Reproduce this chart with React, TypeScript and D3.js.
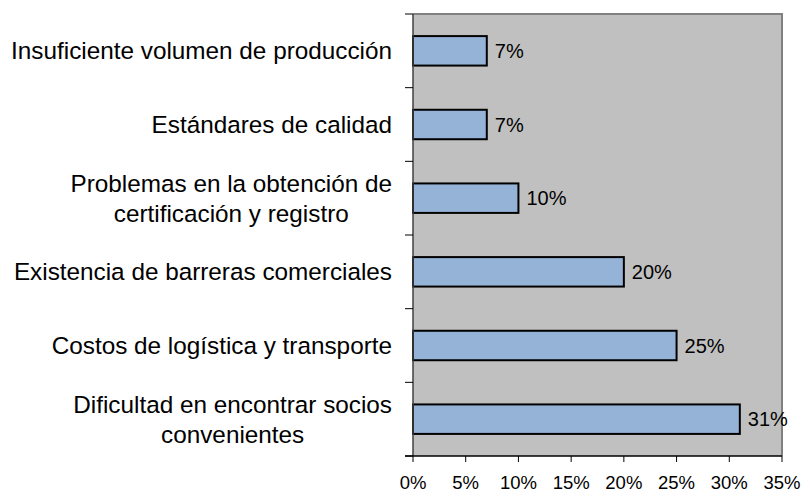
import React, { useEffect, useRef } from "react";
import * as d3 from "d3";

const categories: string[][] = [
  ["Insuficiente volumen de producción"],
  ["Estándares de calidad"],
  ["Problemas en la obtención de", "certificación y registro"],
  ["Existencia de barreras comerciales"],
  ["Costos de logística y transporte"],
  ["Dificultad en encontrar socios", "convenientes"],
];
const values: number[] = [7, 7, 10, 20, 25, 31];
const xTicks: number[] = [0, 5, 10, 15, 20, 25, 30, 35];

const W = 804;
const H = 493;
const FONT = "'Liberation Sans', Arial, sans-serif";

export default function App() {
  const ref = useRef<SVGSVGElement>(null);

  useEffect(() => {
    const svg = d3.select(ref.current);
    svg.selectAll("*").remove();

    const left = 413, right = 782, top = 14, bottom = 456;
    const x = d3.scaleLinear().domain([0, 35]).range([left, right]);
    const idx = categories.map((_, i) => i);
    const y = d3.scaleBand<number>().domain(idx).range([top, bottom]).paddingInner(0.6).paddingOuter(0.3);
    const yOuter = d3.scaleBand<number>().domain(idx).range([top, bottom]);

    // plot area
    svg.append("rect").attr("x", left).attr("y", top).attr("width", right - left).attr("height", bottom - top).attr("fill", "#C0C0C0");
    // top & right border
    svg.append("path")
      .attr("d", `M${left},${top}H${right}V${bottom}`)
      .attr("fill", "none").attr("stroke", "#808080").attr("stroke-width", 2);

    // bars
    svg.append("g").selectAll("rect").data(values).join("rect")
      .attr("x", x(0))
      .attr("y", (_, i) => y(i)!)
      .attr("width", (d) => x(d) - x(0))
      .attr("height", y.bandwidth())
      .attr("fill", "#95B3D7")
      .attr("stroke", "#000").attr("stroke-width", 2);

    // value labels
    svg.append("g").selectAll("text").data(values).join("text")
      .attr("x", (d) => x(d) + 8)
      .attr("y", (_, i) => y(i)! + y.bandwidth() / 2 + 7)
      .attr("font-family", FONT).attr("font-size", 20).attr("fill", "#000")
      .text((d) => `${d}%`);

    // left axis
    svg.append("line").attr("x1", left).attr("x2", left).attr("y1", top).attr("y2", bottom)
      .attr("stroke", "#404040").attr("stroke-width", 1.5);
    const yt = idx.map((i) => yOuter(i)!).concat([bottom]);
    svg.append("g").selectAll("line").data(yt).join("line")
      .attr("x1", left - 8).attr("x2", left).attr("y1", (d) => d).attr("y2", (d) => d)
      .attr("stroke", "#000").attr("stroke-width", 1);

    // bottom axis
    svg.append("line").attr("x1", left - 8).attr("x2", right).attr("y1", bottom).attr("y2", bottom)
      .attr("stroke", "#000").attr("stroke-width", 1.5);
    svg.append("g").selectAll("line").data(xTicks).join("line")
      .attr("x1", (d) => x(d)).attr("x2", (d) => x(d)).attr("y1", bottom).attr("y2", bottom + 6)
      .attr("stroke", "#000").attr("stroke-width", 1);
    svg.append("g").selectAll("text").data(xTicks).join("text")
      .attr("x", (d) => x(d)).attr("y", 489)
      .attr("text-anchor", "middle")
      .attr("font-family", FONT).attr("font-size", 18.5).attr("fill", "#000")
      .text((d) => `${d}%`);

    // category labels
    const labelRight = 392;
    const lineH = 30;
    categories.forEach((lines, i) => {
      const cy = yOuter(i)! + yOuter.bandwidth() / 2;
      const g = svg.append("g");
      const texts = lines.map((ln, j) =>
        g.append("text")
          .attr("y", cy + 8.5 + (j - (lines.length - 1) / 2) * lineH)
          .attr("text-anchor", "middle")
          .attr("font-family", FONT).attr("font-size", 24.3).attr("fill", "#000")
          .text(ln)
      );
      const maxW = d3.max(texts, (t) => (t.node() as SVGTextElement).getComputedTextLength()) || 0;
      texts.forEach((t) => t.attr("x", labelRight - maxW / 2));
    });
  }, []);

  return (
    <svg ref={ref} width={W} height={H} style={{ position: "absolute", left: 0, top: 0, background: "#fff" }} />
  );
}
